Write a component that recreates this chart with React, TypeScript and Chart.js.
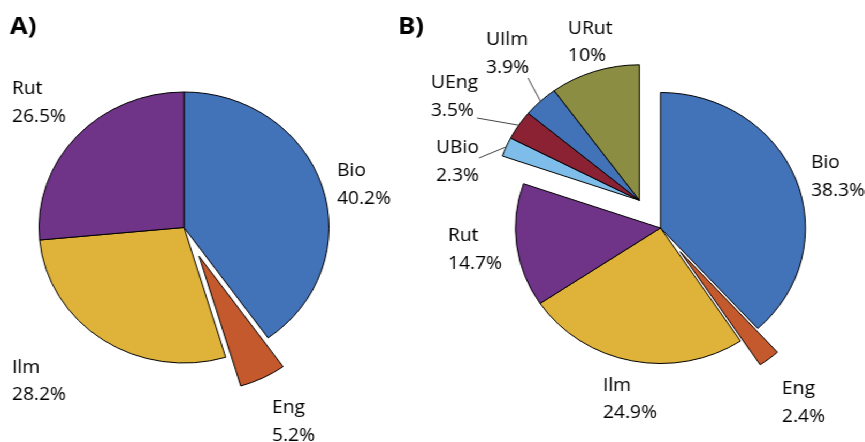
import React, { useEffect, useRef } from 'react';
import { Chart, registerables } from 'chart.js';

Chart.register(...registerables);

// The reference is stretched horizontally; draw in unscaled space and stretch with CSS.
const SX = 1.07;
const W = 865;
const H = 442;
const CW = Math.round(W / SX);

// ---- Panel A data ----
const categoriesA = ['Bio', 'Eng', 'Ilm', 'Rut'];
const valuesA = [40.2, 5.2, 28.2, 26.5];

// ---- Panel B data ----
const categoriesB = ['Bio', 'Eng', 'Ilm', 'Rut', 'UBio', 'UEng', 'UIlm', 'URut'];
const valuesB = [38.3, 2.4, 24.9, 14.7, 2.3, 3.5, 3.9, 10];

// ---- styles ----
const colorsA = ['#4272B8', '#C3592C', '#DFB239', '#6F3387'];
const colorsB = ['#4272B8', '#C3592C', '#DFB239', '#6F3387', '#7EBCE9', '#8B2234', '#4272B8', '#8A8D42'];

type Lbl = { x: number; y: number; lead?: [number, number] };

type Panel = {
  title: string;
  titlePos: [number, number];
  cats: string[];
  vals: number[];
  colors: string[];
  cx: number; // screen px
  cy: number;
  radius: number;
  explode: number[];
  group?: { indices: number[]; offset: number };
  labels: Lbl[];
};

const panelA: Panel = {
  title: 'A)',
  titlePos: [10, 34],
  cats: categoriesA,
  vals: valuesA,
  colors: colorsA,
  cx: 184,
  cy: 227.5,
  radius: 135.5,
  explode: [0, 32, 0, 0],
  labels: [
    { x: 337, y: 176 },
    { x: 272, y: 413 },
    { x: 12, y: 372.5 },
    { x: 12, y: 94 },
  ],
};

const panelB: Panel = {
  title: 'B)',
  titlePos: [398, 34],
  cats: categoriesB,
  vals: valuesB,
  colors: colorsB,
  cx: 660.5,
  cy: 228,
  radius: 135.5,
  explode: [0, 30, 0, 0, 0, 0, 0, 0],
  group: { indices: [4, 5, 6, 7], offset: 34 },
  labels: [
    { x: 811, y: 168 },
    { x: 782, y: 394 },
    { x: 603, y: 390.5 },
    { x: 448, y: 241 },
    { x: 436, y: 153, lead: [479, 158] },
    { x: 431, y: 88, lead: [477, 118] },
    { x: 486, y: 45, lead: [528, 78] },
    { x: 568, y: 33.5 },
  ],
};

const LINE_GAP = 27.5;
const FONT = '"Open Sans", "Noto Sans", sans-serif';

function shifts(p: Panel, els: any[]): [number, number][] {
  const out: [number, number][] = els.map((el: any, i: number) => {
    const mid = (el.startAngle + el.endAngle) / 2;
    const o = p.explode[i] || 0;
    return [Math.cos(mid) * o, Math.sin(mid) * o];
  });
  if (p.group) {
    const g = p.group;
    const a0 = els[g.indices[0]].startAngle;
    const a1 = els[g.indices[g.indices.length - 1]].endAngle;
    const mid = (a0 + a1) / 2;
    g.indices.forEach((i) => {
      out[i] = [Math.cos(mid) * g.offset, Math.sin(mid) * g.offset];
    });
  }
  return out;
}

function PiePanel({ p }: { p: Panel }) {
  const ref = useRef<HTMLCanvasElement>(null);
  useEffect(() => {
    const canvas = ref.current!;
    const cx = p.cx / SX;
    const cy = p.cy;
    const pad = {
      left: 2 * cx > CW ? 2 * cx - CW : 0,
      right: 2 * cx > CW ? 0 : CW - 2 * cx,
      top: 2 * cy > H ? 2 * cy - H : 0,
      bottom: 2 * cy > H ? 0 : H - 2 * cy,
    };
    const plugin = {
      id: 'explodeLabels',
      beforeDatasetDraw(chart: any, args: any) {
        const els = args.meta.data;
        const sh = shifts(p, els);
        const ctx = chart.ctx;
        els.forEach((el: any, i: number) => {
          ctx.save();
          ctx.translate(sh[i][0], sh[i][1]);
          el.draw(ctx, chart.chartArea);
          ctx.restore();
        });
        return false;
      },
      afterDraw(chart: any) {
        const ctx = chart.ctx;
        const els = chart.getDatasetMeta(0).data;
        const sh = shifts(p, els);
        ctx.save();
        // title
        ctx.fillStyle = '#000';
        ctx.font = `bold 24px ${FONT}`;
        ctx.textAlign = 'left';
        ctx.textBaseline = 'alphabetic';
        ctx.fillText(p.title, p.titlePos[0] / SX, p.titlePos[1]);
        // labels
        ctx.font = `18px ${FONT}`;
        ctx.fillStyle = '#000';
        p.labels.forEach((l, i) => {
          const x = l.x / SX;
          ctx.fillText(p.cats[i], x, l.y);
          ctx.fillText(`${p.vals[i]}%`, x, l.y + LINE_GAP);
          if (l.lead) {
            const el: any = els[i];
            const mid = (el.startAngle + el.endAngle) / 2;
            const ax = el.x + sh[i][0] + Math.cos(mid) * el.outerRadius;
            const ay = el.y + sh[i][1] + Math.sin(mid) * el.outerRadius;
            ctx.strokeStyle = '#444';
            ctx.lineWidth = 1;
            ctx.beginPath();
            ctx.moveTo(l.lead[0] / SX, l.lead[1]);
            ctx.lineTo(ax, ay);
            ctx.stroke();
          }
        });
        ctx.restore();
      },
    };
    const chart = new Chart(canvas, {
      type: 'pie',
      data: {
        labels: p.cats,
        datasets: [
          {
            data: p.vals,
            backgroundColor: p.colors,
            borderColor: '#000',
            borderWidth: 1,
            radius: p.radius,
          } as any,
        ],
      },
      options: {
        responsive: false,
        animation: false,
        events: [],
        radius: p.radius,
        layout: { padding: pad },
        plugins: {
          legend: { display: false },
          tooltip: { enabled: false },
        },
      } as any,
      plugins: [plugin as any],
    });
    return () => chart.destroy();
  }, [p]);
  return (
    <canvas
      ref={ref}
      width={CW}
      height={H}
      style={{ position: 'absolute', left: 0, top: 0, width: CW, height: H }}
    />
  );
}

export default function App() {
  return (
    <div
      style={{
        position: 'fixed',
        left: 0,
        top: 0,
        width: W,
        height: H,
        overflow: 'hidden',
        background: '#fff',
      }}
    >
      <div
        style={{
          position: 'absolute',
          left: 0,
          top: 0,
          width: CW,
          height: H,
          transform: `scaleX(${SX})`,
          transformOrigin: '0 0',
        }}
      >
        <PiePanel p={panelA} />
        <PiePanel p={panelB} />
      </div>
    </div>
  );
}
